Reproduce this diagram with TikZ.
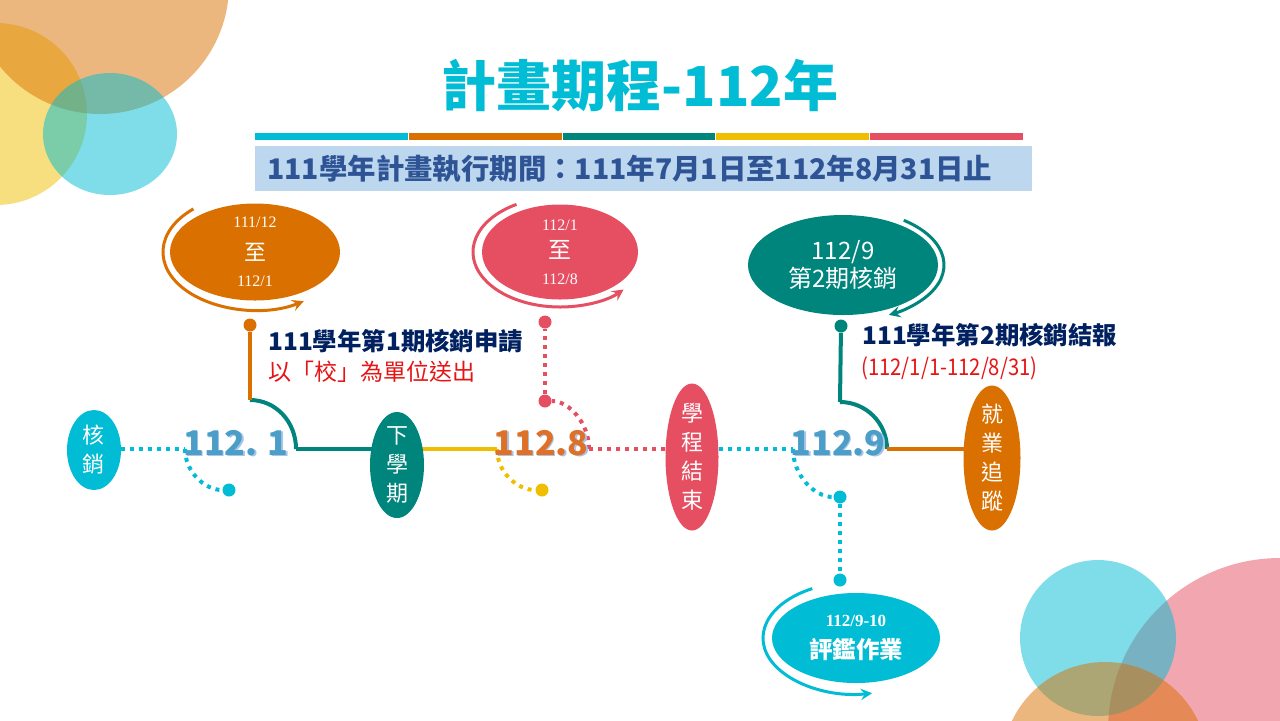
\documentclass[tikz,border=0pt]{standalone}
\usepackage{fontspec}
\usepackage{graphicx}
\setmainfont{Noto Sans CJK TC}
\newfontfamily\numserif{Liberation Serif}
\usepackage{tikz}
\usetikzlibrary{shapes.geometric}
\pgfdeclarelayer{back}
\pgfsetlayers{back,main}

\definecolor{tcyan}{RGB}{0,188,212}
\definecolor{torange}{RGB}{217,112,0}
\definecolor{tteal}{RGB}{0,133,125}
\definecolor{tyellow}{RGB}{240,190,0}
\definecolor{tpink}{RGB}{230,78,98}
\definecolor{barblue}{RGB}{189,215,238}
\definecolor{subnavy}{RGB}{47,84,150}
\definecolor{notenavy}{RGB}{0,32,96}
\definecolor{notered}{RGB}{230,20,20}
\definecolor{numblue}{RGB}{75,158,200}
\definecolor{numorange}{RGB}{222,112,40}
\definecolor{numshade}{RGB}{170,195,230}

\begin{document}
\begin{tikzpicture}[x=0.5pt,y=-0.5pt,
    bub/.style={ellipse,fill=#1,inner sep=0pt},
    vtxt/.style={text=white,align=center,inner sep=0pt,font=\fontsize{11}{14.5}\selectfont},
    dot/.style={circle,fill=#1,inner sep=0pt,minimum size=6.5pt},
    solidline/.style={draw=#1,line width=2pt},
    dotline/.style={draw=#1,line width=2pt,dash pattern=on 2pt off 2.5pt},
    ringarrow/.style={draw=#1,line width=1.5pt,->,>=stealth},
    numlbl/.style={font=\fontsize{17}{17}\selectfont\bfseries,text=#1,inner sep=0pt},
    note/.style={anchor=west,inner sep=0pt}]
    \useasboundingbox (0,0) rectangle (1280,720);

    % corner circles
    \begin{scope}
        \clip (0,0) rectangle (1280,720);
        \fill[tyellow,fill opacity=0.5] (-4,114) circle[radius=91];
        \fill[torange,fill opacity=0.5] (100,-15) circle[radius=129];
        \fill[tcyan,fill opacity=0.5] (110,134) ellipse[x radius=67,y radius=61];
        \fill[tpink,fill opacity=0.5] (1280,730) circle[radius=172];
        \fill[tcyan,fill opacity=0.5] (1098,638) circle[radius=78];
        \fill[torange,fill opacity=0.5] (1105,765) circle[radius=103];
    \end{scope}

    % title and colour bar
    \node[font=\fontsize{27.5}{30}\selectfont\bfseries,text=tcyan] (title) at (640,86) {計畫期程-112年};
    \foreach \c [count=\i from 0] in {tcyan,torange,tteal,tyellow,tpink}
        \fill[\c] (255+\i*153.8,133) rectangle ++(152.8,7);
    \node[fill=barblue,anchor=north west,minimum height=22.5pt,text width=376.5pt,inner xsep=6pt,inner ysep=0pt,
        align=left,font=\fontsize{14.2}{16}\selectfont\bfseries,text=subnavy] (period) at (255,146)
        {111學年計畫執行期間：111年7月1日至112年8月31日止};

    % date bubbles
    \node[bub=torange,minimum width=85pt,minimum height=48.5pt,
        label={[vtxt,font=\fontsize{8}{13}\selectfont]center:{\numserif 111/12}\\[3.5pt]{\fontsize{11}{13}\selectfont 至}\\{\numserif 112/1}}] (p1) at (255,252) {};
    \draw[ringarrow=torange] (p1) ++(228:92 and 58) arc[start angle=228,end angle=58,x radius=92,y radius=58];

    \node[bub=tpink,minimum width=78pt,minimum height=47.5pt,
        label={[vtxt,font=\fontsize{8}{13}\selectfont]center:{\numserif 112/1}\\[1pt]{\fontsize{11.5}{13}\selectfont 至}\\{\numserif 112/8}}] (p2) at (560,252) {};
    \draw[ringarrow=tpink] (p2) ++(240:87 and 55) arc[start angle=240,end angle=43,x radius=87,y radius=55];

    \node[bub=tteal,minimum width=95pt,minimum height=50pt,
        label={[vtxt,font=\fontsize{12}{14}\selectfont]center:112/9\\第2期核銷}] (p3) at (843,265) {};
    \draw[ringarrow=tteal] (p3) ++(-53:101 and 56) arc[start angle=-53,end angle=63,x radius=101,y radius=56];

    \node[bub=tcyan,minimum width=84pt,minimum height=45pt,
        label={[vtxt,font=\fontsize{11.75}{16}\selectfont\bfseries]center:{\numserif\fontsize{8.5}{10}\selectfont 112/9-10}\\評鑑作業}] (p4) at (856,638) {};
    \draw[ringarrow=tcyan] (p4) ++(242:93 and 56) arc[start angle=242,end angle=80,x radius=93,y radius=56];

    % stages on the line
    \node[bub=tcyan,minimum width=27pt,minimum height=40pt,label={[vtxt]center:核\\銷}] (hx) at (94,450) {};
    \node[bub=tteal,minimum width=27pt,minimum height=53pt,label={[vtxt]center:下\\學\\期}] (xq) at (397,465) {};
    \node[bub=tpink,minimum width=26.5pt,minimum height=73.5pt,label={[vtxt]center:學\\程\\結\\束}] (xc) at (692,457) {};
    \node[bub=torange,minimum width=28.5pt,minimum height=72.5pt,label={[vtxt]center:就\\業\\追\\蹤}] (jy) at (992,458) {};

    % dots
    \node[dot=tcyan] (d1) at (229,490) {};
    \node[dot=torange] (d2) at (250,325) {};
    \node[dot=tyellow] (d3) at (542,490) {};
    \node[dot=tpink] (d4) at (545,401) {};
    \node[dot=tpink] (d5) at (545,322) {};
    \node[dot=tcyan] (d6) at (840,497) {};
    \node[dot=tcyan] (d7) at (840,580) {};
    \node[dot=tteal] (d8) at (841,326) {};

    % junctions
    \coordinate (j1L) at (185,449);
    \coordinate (j1R) at (296,449);
    \coordinate (k1) at (250,400);
    \coordinate (j8L) at (497,449);
    \coordinate (j8R) at (589,449);
    \coordinate (j9L) at (793,449);
    \coordinate (j9R) at (887,449);
    \coordinate (k9) at (840,402);

    % month labels
    \node[numlbl=numshade] (lbl1s) at (237.5,444.5) {112. 1};
    \node[numlbl=numblue] (lbl1) at (236,443) {112. 1};
    \node[numlbl=numshade] (lbl8s) at (542.5,444.5) {112.8};
    \node[numlbl=numorange] (lbl8) at (541,443) {112.8};
    \node[numlbl=numshade] (lbl9s) at (839.5,444.5) {112.9};
    \node[numlbl=numblue] (lbl9) at (838,443) {112.9};

    % notes
    \node[note,font=\fontsize{12.2}{14}\selectfont\bfseries,text=notenavy] (n1a) at (268,341) {111學年第1期核銷申請};
    \node[note,font=\fontsize{11.5}{14}\selectfont,text=notered] (n1b) at (268,372) {以「校」為單位送出};
    \node[note,font=\fontsize{12.2}{14}\selectfont\bfseries,text=notenavy] (n2a) at (862,335) {111學年第2期核銷結報};
    \node[note,font=\fontsize{11.5}{14}\selectfont,text=notered] (n2b) at (861,368) {\scalebox{0.88}[1]{(112/1/1-112/8/31)}};

    % connectors
    \begin{pgfonlayer}{back}
        \draw[dotline=tcyan] (hx |- j1L) -- (j1L);
        \draw[dotline=tcyan] (j1L) .. controls (185,472) and (205,490) .. (d1);
        \draw[solidline=tteal] (j1R) -- (j1R -| xq);
        \draw[solidline=tteal] (j1R) .. controls (296,422) and (276,400) .. (k1);
        \draw[solidline=torange] (k1) -- (d2);
        \draw[solidline=tyellow] (j8L -| xq) -- (j8L);
        \draw[dotline=tyellow] (j8L) .. controls (497,472) and (517,490) .. (d3);
        \draw[dotline=tpink] (j8R) -- (j8R -| xc);
        \draw[dotline=tpink] (j8R) .. controls (589,423) and (569,401) .. (d4);
        \draw[dotline=tpink] (d4) -- (d5);
        \draw[dotline=tcyan] (j9L -| xc) -- (j9L);
        \draw[dotline=tcyan] (j9L) .. controls (793,475) and (814,497) .. (d6);
        \draw[dotline=tcyan] (d6) -- (d7);
        \draw[solidline=tteal] (j9R) .. controls (887,423) and (866,402) .. (k9);
        \draw[solidline=tteal] (k9) -- (d8);
        \draw[solidline=torange] (j9R) -- (j9R -| jy);
    \end{pgfonlayer}
\end{tikzpicture}
\end{document}
